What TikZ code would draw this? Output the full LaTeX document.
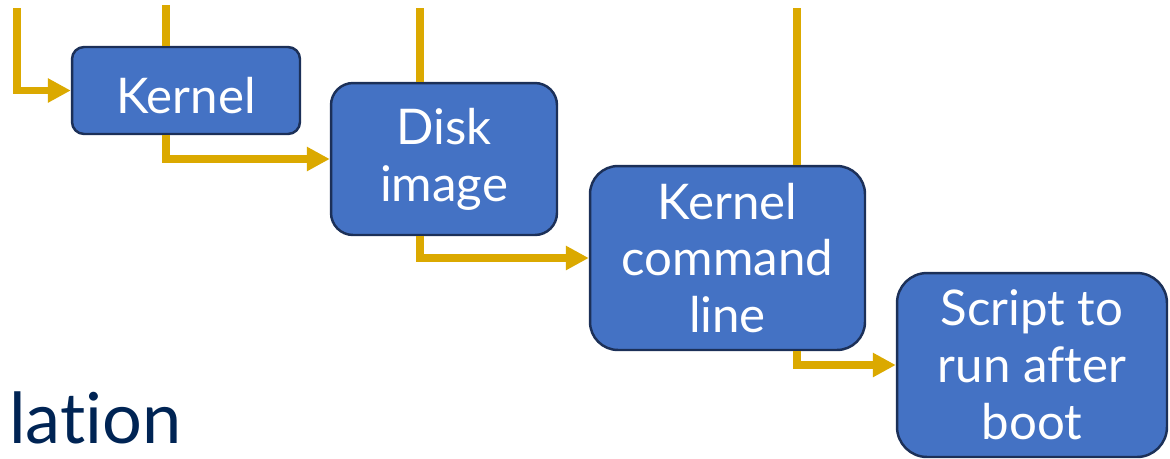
\documentclass[tikz,border=0pt]{standalone}
\usepackage{fontspec}
\setmainfont{Lato}[Ligatures={NoCommon}]
\usepackage{tikz}
\usetikzlibrary{arrows.meta,positioning}

\definecolor{boxblue}{RGB}{68,114,196}
\definecolor{boxedge}{RGB}{28,48,88}
\definecolor{flowgold}{RGB}{219,169,0}
\definecolor{titlenavy}{RGB}{0,36,84}

\begin{document}
\begin{tikzpicture}[x=0.02cm, y=-0.02cm]
	\tikzstyle{Stage}	= [rectangle, draw=boxedge, line width=1.4pt, fill=boxblue, text=white, align=center, inner sep=0pt, execute at begin node={\rule{0pt}{0.93cm}}, font=\fontsize{28}{32.4}\selectfont]
	\tikzstyle{Feed}	= [flowgold, line width=4.3pt]
	\tikzstyle{Flow}	= [Feed, -{Triangle[length=0.46cm, width=0.46cm]}]

	\useasboundingbox (0,0) rectangle (1170,458);
	\clip (0,0) rectangle (1170,458);

	% build stages
	\node (kernel) at (186,90.5) [Stage, minimum width=4.56cm, minimum height=1.74cm, rounded corners=0.24cm] {Kernel};
	\node (disk) at (444,159) [Stage, minimum width=4.52cm, minimum height=3.04cm, rounded corners=0.44cm] {Disk\\image};
	\node (cmdline) at (727.5,258) [Stage, minimum width=5.5cm, minimum height=3.68cm, rounded corners=0.56cm] {Kernel\\command\\line};
	\node (script) at (1032,365) [Stage, minimum width=5.4cm, minimum height=3.68cm, rounded corners=0.6cm] {Script to\\run after\\boot};

	% lines coming in from above
	\foreach \c/\x/\y in {in0/17/8, in1/166/5, in2/420/8, in3/797/8}
		\coordinate (\c) at (\x,\y);
	\draw [Flow] (in0) |- (kernel.west);
	\foreach \c/\n in {in1/kernel, in2/disk, in3/cmdline}
		\draw [Feed] (\c) -- (\c |- \n.north);
	\foreach \c/\a/\b in {in1/kernel/disk, in2/disk/cmdline, in3/cmdline/script}
		\draw [Flow] (\c |- \a.south) |- (\b.west);

	\node (title) at (9,443) [anchor=base west, inner sep=0pt, text=titlenavy, font=\fontsize{40}{48}\selectfont] {lation};
\end{tikzpicture}
\end{document}
